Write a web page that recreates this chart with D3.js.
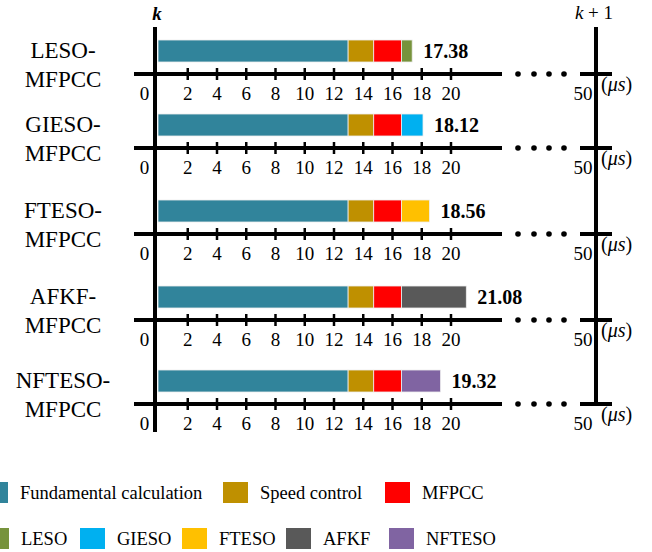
<!DOCTYPE html>
<html>
<head>
<meta charset="utf-8">
<script src="https://d3js.org/d3.v7.min.js"></script>
<title>Execution time</title>
<style>
body { margin: 0; background: #fff; }
</style>
</head>
<body>
<script>

// data
var methods = ["LESO", "GIESO", "FTESO", "AFKF", "NFTESO"];
var fundamentalTime = [13.0, 13.0, 13.0, 13.0, 13.0];
var speedTime = [1.75, 1.75, 1.75, 1.75, 1.75];
var mfpccTime = [1.9, 1.9, 1.9, 1.9, 1.9];
var observerTime = [0.73, 1.47, 1.91, 4.43, 2.67];
var totals = ["17.38", "18.12", "18.56", "21.08", "19.32"];
var tickValues = [0, 2, 4, 6, 8, 10, 12, 14, 16, 18, 20];
var legendRow1 = ["Fundamental calculation", "Speed control", "MFPCC"];
var legendRow2 = ["LESO", "GIESO", "FTESO", "AFKF", "NFTESO"];

var colors = {
  "Fundamental calculation": "#31849B",
  "Speed control": "#BF9000",
  "MFPCC": "#FF0000",
  "LESO": "#77933C",
  "GIESO": "#00B0F0",
  "FTESO": "#FFC000",
  "AFKF": "#595959",
  "NFTESO": "#8064A2"
};

var FONT = "Liberation Serif";

var width = 652,
    height = 552;

var svg = d3.select("body")
  .append("svg")
  .attr("width", width)
  .attr("height", height)
  .style("font-family", FONT);

function txt(sel) {
  return sel.append("text").style("font-family", FONT).attr("fill", "#000");
}

var x = d3.scaleLinear()
    .domain([0, 20])
    .range([158, 450.5]);

// axis baselines of each row
var rowY = d3.scaleOrdinal()
    .domain(methods)
    .range([74, 148, 234, 320, 404]);

var leftX = 155, rightX = 596;

// vertical lines k and k+1
svg.append("line")
  .attr("x1", leftX).attr("x2", leftX)
  .attr("y1", 27).attr("y2", 432)
  .attr("stroke", "#000").attr("stroke-width", 4);
svg.append("line")
  .attr("x1", rightX).attr("x2", rightX)
  .attr("y1", 27).attr("y2", 404)
  .attr("stroke", "#000").attr("stroke-width", 4);

txt(svg)
  .attr("x", leftX + 2).attr("y", 20)
  .attr("text-anchor", "middle")
  .style("font-size", "19px").style("font-style", "italic").style("font-weight", "bold")
  .text("k");

var kp = txt(svg)
  .attr("x", rightX - 2).attr("y", 19)
  .attr("text-anchor", "middle")
  .style("font-size", "19px");
kp.append("tspan").style("font-style", "italic").text("k");
kp.append("tspan").text(" + 1");

methods.forEach(function(m, i) {
  var y0 = rowY(m);
  var g = svg.append("g");

  // segments
  var segs = [
    { name: "Fundamental calculation", v: fundamentalTime[i] },
    { name: "Speed control", v: speedTime[i] },
    { name: "MFPCC", v: mfpccTime[i] },
    { name: m, v: observerTime[i] }
  ];
  var acc = 0;
  segs.forEach(function(s) { s.start = acc; acc += s.v; s.end = acc; });

  g.selectAll("rect")
    .data(segs)
    .enter()
    .append("rect")
    .attr("x", function(d) { return x(d.start); })
    .attr("width", function(d) { return x(d.end) - x(d.start); })
    .attr("y", y0 - 34)
    .attr("height", 22)
    .attr("fill", function(d) { return colors[d.name]; })
    .attr("stroke", "#eeeeee")
    .attr("stroke-width", 0.8);

  txt(g)
    .attr("x", x(acc) + 11)
    .attr("y", y0 - 16)
    .style("font-size", "20px")
    .style("font-weight", "bold")
    .text(totals[i]);

  // row label
  var lab = txt(g)
    .attr("text-anchor", "middle")
    .style("font-size", "23px");
  lab.append("tspan").attr("x", 63).attr("y", y0 - 16).text(m + "-");
  lab.append("tspan").attr("x", 63).attr("y", y0 + 13).text("MFPCC");

  // axis
  var axis = d3.axisBottom(x)
    .tickValues(tickValues)
    .tickSize(5)
    .tickFormat(d3.format("d"));
  var ag = g.append("g")
    .attr("transform", "translate(0," + y0 + ")")
    .call(axis)
    .attr("font-family", FONT)
    .attr("font-size", 19);
  ag.select(".domain").remove();
  ag.selectAll(".tick line")
    .attr("y1", -6).attr("y2", 6)
    .attr("stroke", "#000").attr("stroke-width", 2.5)
    .filter(function(d) { return d === 0; }).remove();
  ag.selectAll(".tick text")
    .attr("y", 26).attr("dy", null)
    .style("font-family", FONT)
    .style("font-size", "19px")
    .attr("fill", "#000");
  ag.selectAll(".tick text")
    .filter(function(d) { return d === 0; })
    .attr("x", -14);

  g.append("line")
    .attr("x1", 134).attr("x2", 502)
    .attr("y1", y0).attr("y2", y0)
    .attr("stroke", "#000").attr("stroke-width", 4);

  g.selectAll("circle")
    .data([518, 534, 549, 564])
    .enter()
    .append("circle")
    .attr("cx", function(d) { return d; })
    .attr("cy", y0)
    .attr("r", 2.8)
    .attr("fill", "#000");

  g.append("line")
    .attr("x1", 580).attr("x2", 612)
    .attr("y1", y0).attr("y2", y0)
    .attr("stroke", "#000").attr("stroke-width", 4);

  txt(g)
    .attr("x", 583).attr("y", y0 + 26)
    .attr("text-anchor", "middle")
    .style("font-size", "19px")
    .text("50");

  var us = txt(g)
    .attr("x", 601).attr("y", y0 + 17)
    .style("font-size", "20px");
  us.append("tspan").text("(");
  us.append("tspan").style("font-style", "italic").text("\u03bcs");
  us.append("tspan").text(")");
});

// legend
var leg1X = [-17, 223, 385];
var leg2X = [-16, 80, 182, 286, 389];

function legendRow(names, xs, y) {
  var items = svg.append("g")
    .selectAll("g")
    .data(names)
    .enter()
    .append("g")
    .attr("transform", function(d, i) { return "translate(" + xs[i] + "," + y + ")"; });
  items.append("rect")
    .attr("width", 25).attr("height", 21)
    .attr("fill", function(d) { return colors[d]; });
  items.append("text")
    .style("font-family", FONT)
    .attr("x", 37).attr("y", 17)
    .style("font-size", "18.5px")
    .text(function(d) { return d; });
}
legendRow(legendRow1, leg1X, 482);
legendRow(legendRow2, leg2X, 528);

</script>
</body>
</html>
